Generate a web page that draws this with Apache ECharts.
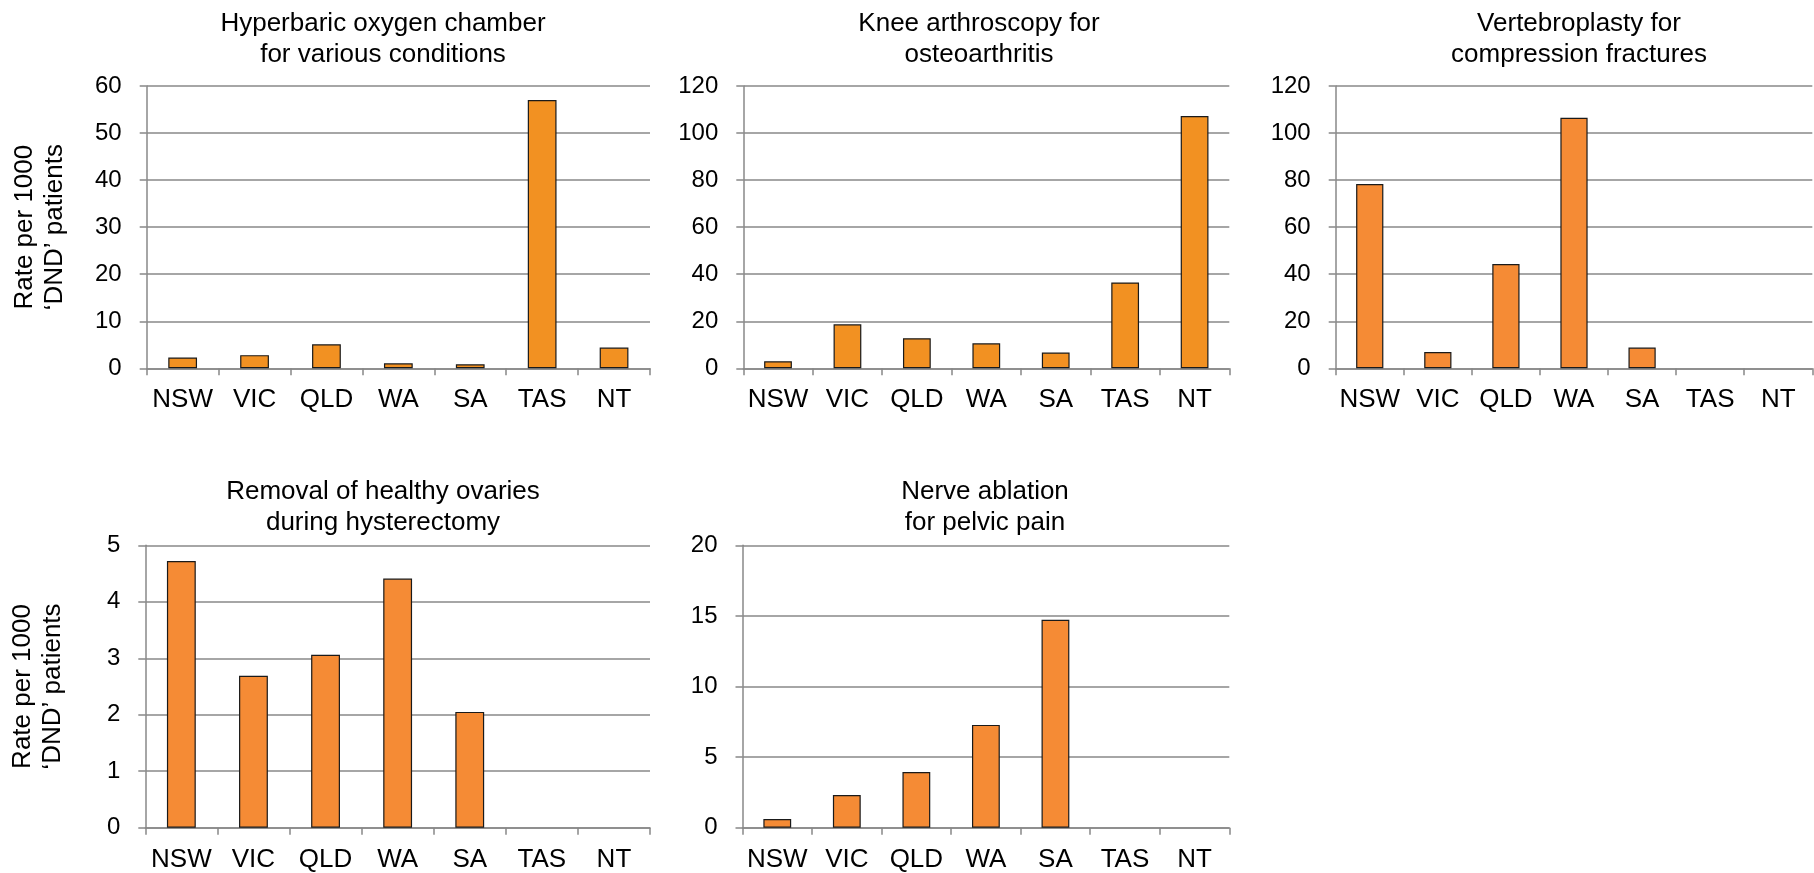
<!DOCTYPE html>
<html>
<head>
<meta charset="utf-8">
<script src="https://cdn.jsdelivr.net/npm/echarts@6/dist/echarts.min.js"></script>
<style>
html,body{margin:0;padding:0;background:#fff;}
#c{width:1814px;height:873px;}
</style>
</head>
<body>
<div id="c"></div>
<script>
// ---- data ----
const categories = ['NSW','VIC','QLD','WA','SA','TAS','NT'];
const titles = [
  'Hyperbaric oxygen chamber\nfor various conditions',
  'Knee arthroscopy for\nosteoarthritis',
  'Vertebroplasty for\ncompression fractures',
  'Removal of healthy ovaries\nduring hysterectomy',
  'Nerve ablation\nfor pelvic pain'
];
const hyperbaric   = [2.3, 2.8, 5.1, 1.05, 0.85, 57, 4.4];
const kneeArthro   = [3.0, 18.7, 12.8, 10.6, 6.7, 36.5, 107.2];
const vertebro     = [78.3, 6.95, 44.3, 106.5, 8.8, 0, 0];
const ovaries      = [4.72, 2.69, 3.06, 4.41, 2.05, 0, 0];
const nerveAblation= [0.61, 2.32, 3.95, 7.28, 14.73, 0, 0];
const yMax      = [60, 120, 120, 5, 20];
const yInterval = [10, 20, 20, 1, 5];
const yAxisTitle = 'Rate per 1000\n‘DND’ patients';

// ---- layout ----
const FONT = "'Liberation Sans', Arial, sans-serif";
const panels = [
  {l:146.7, r:650,   t:86,    b:368.3, data:hyperbaric,   color:'#F29122', tx:378, tt:3,   yname:true},
  {l:743.3, r:1229.3,t:86,    b:368.3, data:kneeArthro,   color:'#F29122', tx:974, tt:3,   yname:false},
  {l:1335.7,r:1812.3,t:86,    b:368.3, data:vertebro,     color:'#F58B35', tx:1574,tt:3,   yname:false},
  {l:145.3, r:650,   t:545.3, b:827.7, data:ovaries,      color:'#F58B35', tx:378, tt:471, yname:true},
  {l:742.5, r:1229.3,t:545.3, b:827.7, data:nerveAblation,color:'#F58B35', tx:980, tt:471, yname:false}
];

const grid=[], xAxis=[], yAxis=[], series=[], title=[];
panels.forEach((p,i)=>{
  grid.push({left:p.l, top:p.t, width:p.r-p.l, height:p.b-p.t, containLabel:false});
  xAxis.push({
    type:'category', gridIndex:i, data:categories, boundaryGap:true,
    axisLine:{show:true, lineStyle:{color:'#888', width:1.5}},
    axisTick:{show:true, length:7, inside:false, alignWithLabel:false, lineStyle:{color:'#888', width:1.5}},
    axisLabel:{color:'#000', fontSize:26, fontFamily:FONT, margin:19, interval:0},
    splitLine:{show:false}
  });
  yAxis.push({
    type:'value', gridIndex:i, min:0, max:yMax[i], interval:yInterval[i],
    axisLine:{show:true, lineStyle:{color:'#888', width:1.5}},
    axisTick:{show:true, length:7, lineStyle:{color:'#888', width:1.5}},
    axisLabel:{color:'#000', fontSize:24, fontFamily:FONT, margin:25},
    splitLine:{show:true, lineStyle:{color:'#888', width:1.5}},
    name: p.yname ? yAxisTitle : '',
    nameLocation:'middle', nameRotate:90, nameGap:77,
    nameTextStyle:{color:'#000', fontSize:26, fontFamily:FONT, lineHeight:30}
  });
  series.push({
    type:'bar', xAxisIndex:i, yAxisIndex:i,
    data:p.data.map(v => v === 0 ? {value:0, itemStyle:{borderWidth:0}} : v),
    barWidth:'40%',
    itemStyle:{color:p.color, borderColor:'#1a1a1a', borderWidth:1.2},
    silent:true, animation:false
  });
  title.push({
    text:titles[i], left:p.tx, top:p.tt, textAlign:'center',
    textStyle:{color:'#000', fontSize:26, fontWeight:'normal', fontFamily:FONT, lineHeight:31}
  });
});

const chart = echarts.init(document.getElementById('c'), null, {renderer:'canvas'});
chart.setOption({
  backgroundColor:'#fff',
  animation:false,
  title, grid, xAxis, yAxis, series
});
</script>
</body>
</html>
